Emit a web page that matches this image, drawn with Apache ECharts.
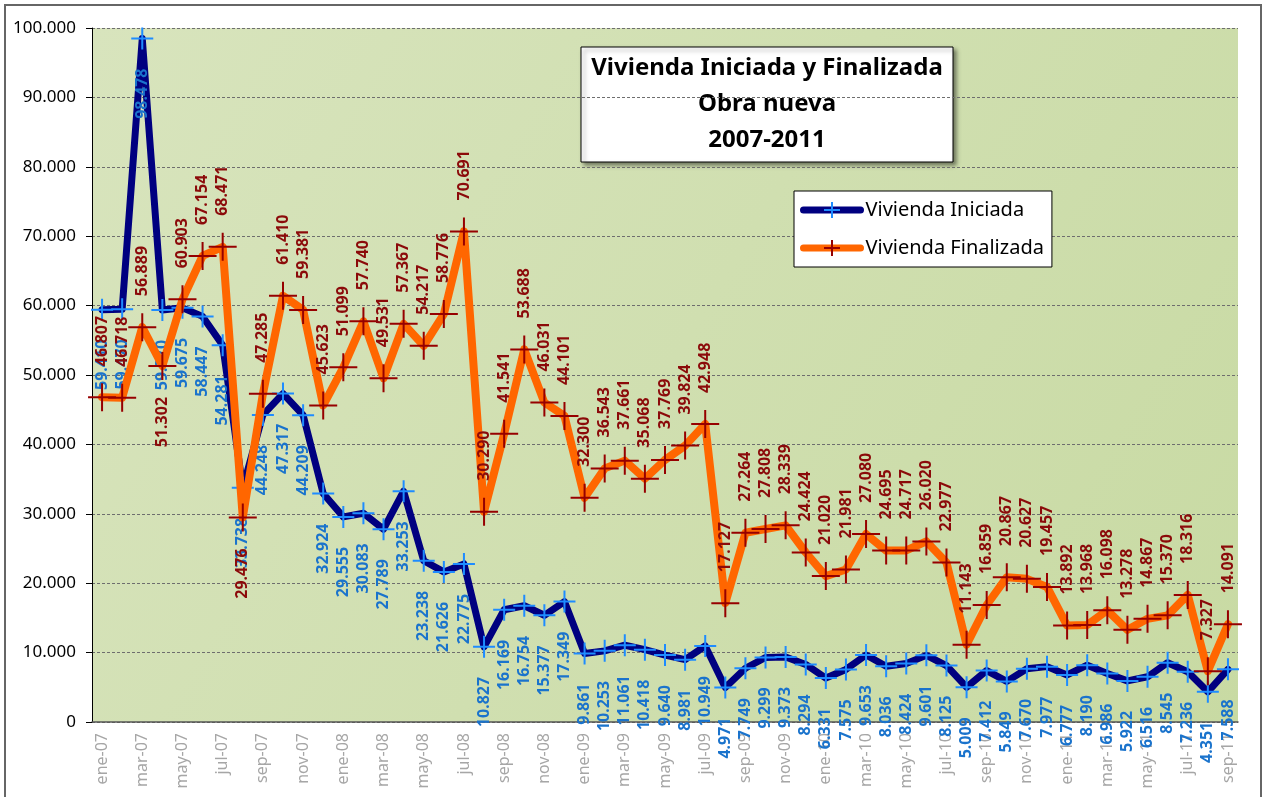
<!DOCTYPE html>
<html>
<head>
<meta charset="utf-8">
<script src="https://cdn.jsdelivr.net/npm/echarts@6/dist/echarts.min.js"></script>
<style>
  html, body { margin: 0; padding: 0; background: #fff; }
  #chart { width: 1263px; height: 797px; }
</style>
</head>
<body>
<div id="chart"></div>
<script>
// months, ene-07 .. sep-11
var months = [
  "ene-07", "feb-07", "mar-07", "abr-07", "may-07", "jun-07", "jul-07", "ago-07", "sep-07", "oct-07", "nov-07", "dic-07",
  "ene-08", "feb-08", "mar-08", "abr-08", "may-08", "jun-08", "jul-08", "ago-08", "sep-08", "oct-08", "nov-08", "dic-08",
  "ene-09", "feb-09", "mar-09", "abr-09", "may-09", "jun-09", "jul-09", "ago-09", "sep-09", "oct-09", "nov-09", "dic-09",
  "ene-10", "feb-10", "mar-10", "abr-10", "may-10", "jun-10", "jul-10", "ago-10", "sep-10", "oct-10", "nov-10", "dic-10",
  "ene-11", "feb-11", "mar-11", "abr-11", "may-11", "jun-11", "jul-11", "ago-11", "sep-11"
];

var iniciada = [
  59410, 59470, 98478, 59370, 59675, 58447, 54281, 33738, 44248, 47317, 44209, 32924,
  29555, 30083, 27789, 33253, 23238, 21626, 22775, 10827, 16169, 16754, 15377, 17349,
  9861, 10253, 11061, 10418, 9640, 8981, 10949, 4971, 7749, 9299, 9373, 8294,
  6331, 7575, 9653, 8036, 8424, 9601, 8125, 5009, 7412, 5849, 7670, 7977,
  6777, 8190, 6986, 5922, 6516, 8545, 7236, 4351, 7588
];

var finalizada = [
  46807, 46718, 56889, 51302, 60903, 67154, 68471, 29476, 47285, 61410, 59381, 45623,
  51099, 57740, 49531, 57367, 54217, 58776, 70691, 30290, 41541, 53688, 46031, 44101,
  32300, 36543, 37661, 35068, 37769, 39824, 42948, 17127, 27264, 27808, 28339, 24424,
  21020, 21981, 27080, 24695, 24717, 26020, 22977, 11143, 16859, 20867, 20627, 19457,
  13892, 13968, 16098, 13278, 14867, 15370, 18316, 7327, 14091
];

// months where the Finalizada label sits under the point
var finalizadaLabelBelow = ["abr-07", "ago-07"];

var yMax = 100000;
var yStep = 10000;

// 12345 -> "12.345"
function miles(v) {
  return String(v).replace(/\B(?=(\d{3})+(?!\d))/g, ".");
}

var cross = "path://M0,10 L20,10 M10,0 L10,20";

var finalizadaData = finalizada.map(function (v, i) {
  if (finalizadaLabelBelow.indexOf(months[i]) >= 0) {
    return { value: v, label: { position: "bottom", align: "right" } };
  }
  return v;
});

var chart = echarts.init(document.getElementById("chart"));

var option = {
  backgroundColor: "#fff",
  animation: false,
  grid: {
    left: 92,
    right: 25,
    top: 28,
    bottom: 75,
    show: true,
    borderWidth: 0,
    backgroundColor: new echarts.graphic.LinearGradient(0, 0, 1, 1, [
      { offset: 0, color: "#d8e4bd" },
      { offset: 1, color: "#c8daa3" }
    ])
  },
  legend: {
    left: 794,
    top: 191,
    orient: "vertical",
    backgroundColor: "#fff",
    borderColor: "#000",
    borderWidth: 1,
    padding: [9, 8, 9, 6],
    itemWidth: 57,
    itemHeight: 20,
    itemGap: 18,
    lineStyle: { width: 7, cap: "round" },
    textStyle: { fontFamily: "Noto Sans", fontSize: 20, color: "#000" },
    data: ["Vivienda Iniciada", "Vivienda Finalizada"]
  },
  xAxis: {
    type: "category",
    data: months,
    boundaryGap: true,
    axisLine: { lineStyle: { color: "#555", width: 1.5 } },
    axisTick: { interval: 1, length: 6, lineStyle: { color: "#555" } },
    axisLabel: {
      interval: 1,
      rotate: 90,
      margin: 11,
      color: "#a6a6a6",
      fontFamily: "Noto Sans",
      fontSize: 16
    },
    splitLine: { show: false }
  },
  yAxis: {
    type: "value",
    min: 0,
    max: yMax,
    interval: yStep,
    axisLine: { show: true, lineStyle: { color: "#000", width: 1 } },
    axisTick: { show: true, length: 6, lineStyle: { color: "#000" } },
    axisLabel: {
      margin: 16,
      color: "#000",
      fontFamily: "Noto Sans",
      fontSize: 17,
      formatter: miles
    },
    splitLine: { lineStyle: { color: "#6e6e6e", type: [3, 2], width: 1 } }
  },
  series: [
    {
      name: "Vivienda Iniciada",
      type: "line",
      data: iniciada,
      z: 2,
      showAllSymbol: true,
      symbol: cross,
      symbolSize: 22,
      lineStyle: { color: "#000080", width: 7, cap: "round", join: "round" },
      itemStyle: { color: "#1e8cff", borderColor: "#1e8cff", borderWidth: 2 },
      label: {
        show: true,
        position: "bottom",
        distance: 18,
        rotate: 90,
        align: "right",
        verticalAlign: "middle",
        color: "#1a73cc",
        fontFamily: "Noto Sans",
        fontWeight: "bold",
        fontSize: 16,
        formatter: function (p) { return miles(p.value); }
      },
      emphasis: { disabled: true }
    },
    {
      name: "Vivienda Finalizada",
      type: "line",
      data: finalizadaData,
      z: 3,
      showAllSymbol: true,
      symbol: cross,
      symbolSize: 28,
      lineStyle: { color: "#ff6600", width: 8, cap: "round", join: "round" },
      itemStyle: { color: "#960000", borderColor: "#960000", borderWidth: 2 },
      label: {
        show: true,
        position: "top",
        distance: 16,
        rotate: 90,
        align: "left",
        verticalAlign: "middle",
        color: "#8b0a0a",
        fontFamily: "Noto Sans",
        fontWeight: "bold",
        fontSize: 16,
        formatter: function (p) { return miles(p.value); }
      },
      emphasis: { disabled: true }
    }
  ],
  graphic: [
    {
      // outer frame
      type: "rect",
      z: 100,
      shape: { x: 5, y: 5, width: 1256, height: 800 },
      style: { fill: null, stroke: "#666", lineWidth: 2 }
    },
    {
      // title box
      type: "group",
      z: 100,
      children: [
        {
          type: "rect",
          shape: { x: 581, y: 47, width: 372, height: 115 },
          style: {
            fill: "#fff",
            stroke: "#000",
            lineWidth: 1,
            shadowBlur: 4,
            shadowOffsetX: 3,
            shadowOffsetY: 3,
            shadowColor: "rgba(0,0,0,0.45)"
          }
        },
        {
          type: "text",
          x: 767,
          y: 104,
          style: {
            text: "Vivienda Iniciada y Finalizada\nObra nueva\n2007-2011",
            align: "center",
            verticalAlign: "middle",
            lineHeight: 36,
            fill: "#000",
            font: "bold 24px 'Noto Sans'"
          }
        }
      ]
    }
  ]
};

chart.setOption(option);
</script>
</body>
</html>
